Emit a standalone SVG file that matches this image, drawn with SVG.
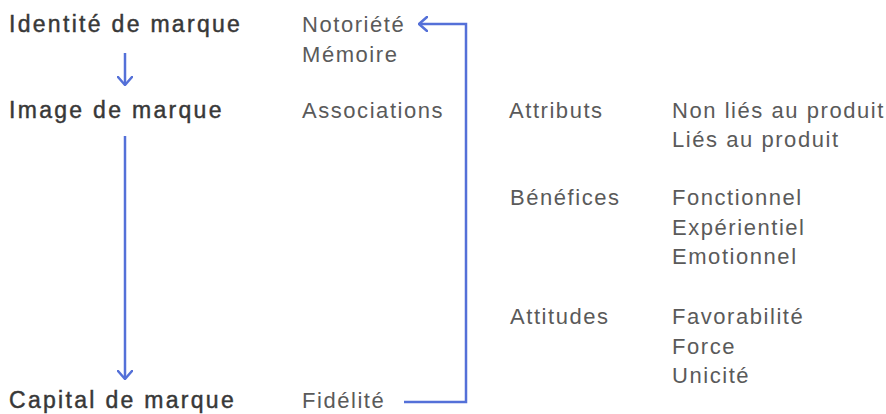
<svg xmlns="http://www.w3.org/2000/svg" width="886" height="414" viewBox="0 0 886 414">
<defs>
<style>
.t{font-family:"Liberation Sans",Arial,sans-serif;font-size:23px;letter-spacing:2.3px;fill:#383838;stroke:#383838;stroke-width:0.45}
.r{font-family:"Liberation Sans",Arial,sans-serif;font-size:22px;letter-spacing:1.55px;fill:#5a5a5a}
.c{fill:none;stroke:#5470d8;stroke-width:2.5}
</style>
<marker id="ah" viewBox="0 0 10 16" refX="9" refY="8" markerWidth="10" markerHeight="16" markerUnits="userSpaceOnUse" orient="auto">
<path d="M1,1 L9,8 L1,15" fill="none" stroke="#5470d8" stroke-width="2.5" stroke-linecap="round" stroke-linejoin="round"/>
</marker>
</defs>
<rect width="886" height="414" fill="#ffffff"/>
<g id="identite"><text class="t" x="9" y="32">Identité de marque</text></g>
<g id="image"><text class="t" x="9" y="118">Image de marque</text></g>
<g id="capital"><text class="t" x="9" y="408">Capital de marque</text></g>
<g id="notoriete"><text class="r" x="302" y="32">Notoriété</text><text class="r" x="302" y="62">Mémoire</text></g>
<g id="associations"><text class="r" x="302" y="118">Associations</text></g>
<g id="fidelite"><text class="r" x="302" y="408">Fidélité</text></g>
<g id="attributs"><text class="r" x="509" y="118">Attributs</text><text class="r" x="672" y="118">Non liés au produit</text><text class="r" x="672" y="147">Liés au produit</text></g>
<g id="benefices"><text class="r" x="510" y="205">Bénéfices</text><text class="r" x="672" y="205">Fonctionnel</text><text class="r" x="672" y="235">Expérientiel</text><text class="r" x="672" y="264">Emotionnel</text></g>
<g id="attitudes"><text class="r" x="510" y="324">Attitudes</text><text class="r" x="672" y="324">Favorabilité</text><text class="r" x="672" y="354">Force</text><text class="r" x="672" y="383">Unicité</text></g>
<g id="connectors">
<path class="c" d="M125,53 V85" marker-end="url(#ah)"/>
<path class="c" d="M125,136 V379" marker-end="url(#ah)"/>
<path class="c" d="M404,402 H466 V24 H419" marker-end="url(#ah)"/>
</g>
</svg>
